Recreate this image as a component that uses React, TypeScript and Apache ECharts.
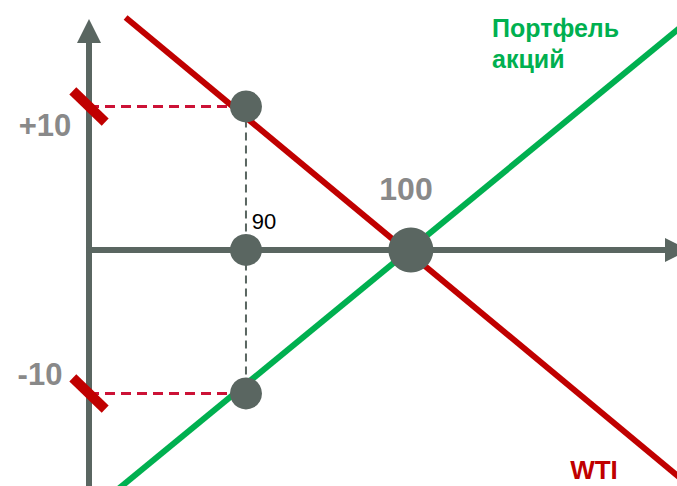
import React, { useEffect, useRef } from "react";
import * as echarts from "echarts";

// Axis extents (value units)
const X_MIN = 80.48;
const X_MAX = 116.14;
const Y_MIN = -16.45;
const Y_MAX = 15.26;

// Scenario values
const shockX = 90;
const baseX = 100;
const shockLevels = [10, 0, -10];
const tickLevels = [10, -10];

// Lines (x, y)
const wtiLine = [
  [82.7, 16.2],
  [117.5, -17.0],
];
const portfolioLine = [
  [82.0, -16.9],
  [117.5, 16.6],
];

const GRAY = "#5a6661";
const RED = "#c00000";
const DASH_RED = "#cc1236";
const GREEN = "#00b050";
const LABEL_GRAY = "#898989";
const FONT = '"Liberation Sans", Arial, sans-serif';

export default function App() {
  const ref = useRef<HTMLDivElement>(null);

  useEffect(() => {
    if (!ref.current) return;
    const chart = echarts.init(ref.current, null, { renderer: "svg" });

    const axisCommon = {
      type: "value" as const,
      axisTick: { show: false },
      axisLabel: { show: false },
      splitLine: { show: false },
    };

    const option: any = {
      animation: false,
      backgroundColor: "#ffffff",
      grid: { left: 89, right: -4, top: 31, bottom: 0, containLabel: false },
      xAxis: {
        ...axisCommon,
        min: X_MIN,
        max: X_MAX,
        axisLine: {
          show: true,
          onZero: true,
          symbol: ["none", "triangle"],
          symbolSize: [24, 24],
          lineStyle: { color: GRAY, width: 6 },
        },
      },
      yAxis: {
        ...axisCommon,
        min: Y_MIN,
        max: Y_MAX,
        axisLine: {
          show: true,
          onZero: false,
          symbol: ["none", "triangle"],
          symbolSize: [24, 24],
          lineStyle: { color: GRAY, width: 6 },
        },
      },
      series: [
        ...tickLevels.map((lv) => ({
          type: "line",
          data: [
            [X_MIN, lv],
            [shockX, lv],
          ],
          symbol: "none",
          clip: false,
          silent: true,
          z: 2,
          lineStyle: { color: DASH_RED, width: 3, type: [10, 6] },
        })),
        {
          type: "line",
          data: [
            [shockX, shockLevels[0]],
            [shockX, shockLevels[2]],
          ],
          symbol: "none",
          clip: false,
          silent: true,
          z: 2,
          lineStyle: { color: GRAY, width: 2, type: [8, 5] },
        },
        {
          type: "line",
          name: "WTI",
          data: wtiLine,
          symbol: "none",
          clip: false,
          silent: true,
          z: 3,
          lineStyle: { color: RED, width: 6 },
        },
        {
          type: "line",
          name: "Портфель акций",
          data: portfolioLine,
          symbol: "none",
          clip: false,
          silent: true,
          z: 3,
          lineStyle: { color: GREEN, width: 6 },
        },
        {
          type: "scatter",
          data: tickLevels.map((lv) => [X_MIN, lv]),
          symbol: "rect",
          symbolSize: [10, 45],
          symbolRotate: 46,
          clip: false,
          silent: true,
          z: 4,
          itemStyle: { color: RED, opacity: 1 },
        },
        {
          type: "scatter",
          data: shockLevels.map((lv) => [shockX, lv]),
          symbol: "circle",
          symbolSize: 32,
          clip: false,
          silent: true,
          z: 5,
          itemStyle: { color: GRAY, opacity: 1 },
        },
        {
          type: "scatter",
          data: [[baseX, 0]],
          symbol: "circle",
          symbolSize: 45,
          clip: false,
          silent: true,
          z: 5,
          itemStyle: { color: GRAY, opacity: 1 },
        },
      ],
      graphic: [
        {
          type: "text",
          x: 45,
          y: 125,
          style: { text: "+10", fontSize: 31, fontWeight: "bold", fontFamily: FONT, fill: LABEL_GRAY, align: "center", verticalAlign: "middle" },
        },
        {
          type: "text",
          x: 40,
          y: 374,
          style: { text: "-10", fontSize: 31, fontWeight: "bold", fontFamily: FONT, fill: LABEL_GRAY, align: "center", verticalAlign: "middle" },
        },
        {
          type: "text",
          x: 406,
          y: 189,
          style: { text: "100", fontSize: 32, fontWeight: "bold", fontFamily: FONT, fill: LABEL_GRAY, align: "center", verticalAlign: "middle" },
        },
        {
          type: "text",
          x: 264,
          y: 221,
          style: { text: "90", fontSize: 22, fontFamily: FONT, fill: "#000000", align: "center", verticalAlign: "middle" },
        },
        {
          type: "text",
          x: 492,
          y: 28,
          style: { text: "Портфель", fontSize: 25, fontWeight: "bold", fontFamily: FONT, fill: GREEN, align: "left", verticalAlign: "middle" },
        },
        {
          type: "text",
          x: 492,
          y: 59,
          style: { text: "акций", fontSize: 25, fontWeight: "bold", fontFamily: FONT, fill: GREEN, align: "left", verticalAlign: "middle" },
        },
        {
          type: "text",
          x: 594,
          y: 470,
          style: { text: "WTI", fontSize: 26, fontWeight: "bold", fontFamily: FONT, fill: RED, align: "center", verticalAlign: "middle" },
        },
      ],
    };

    chart.setOption(option);
    return () => {
      chart.dispose();
    };
  }, []);

  return (
    <div
      ref={ref}
      style={{ position: "absolute", left: 0, top: 0, width: 677, height: 486 }}
    />
  );
}
